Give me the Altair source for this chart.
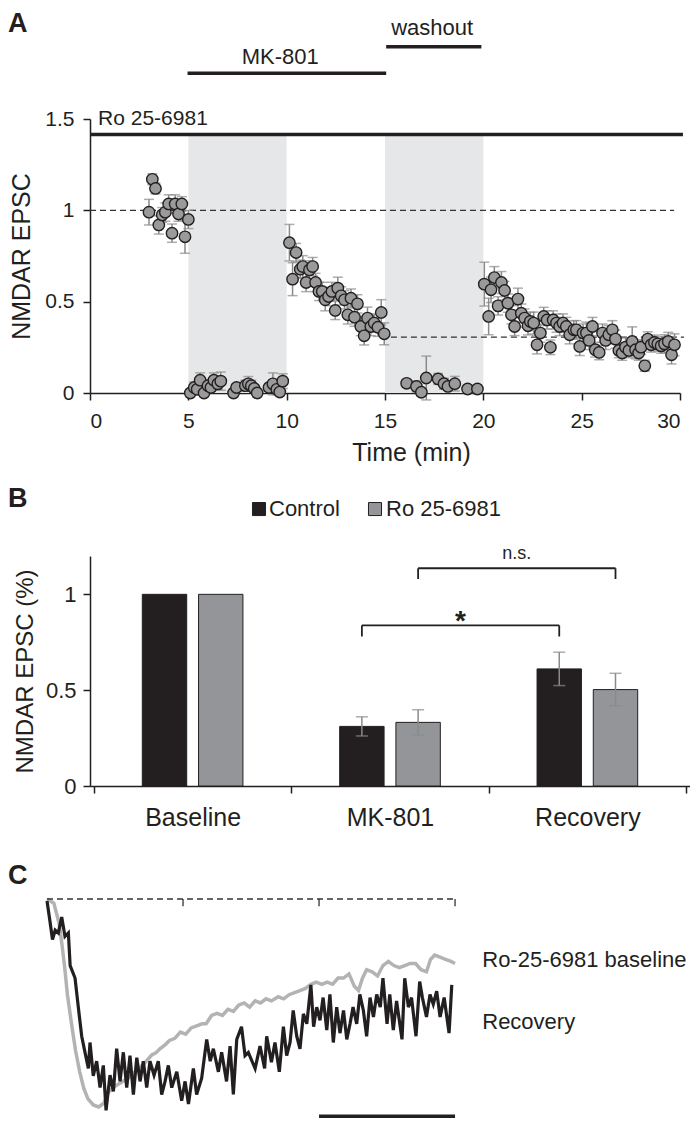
import altair as alt
import pandas as pd

FONT = "Liberation Sans"
INK = "#231f20"
GREY_PT = "#9a9a9a"
ERR = "#8a8a8a"

# ---------------- Panel A data ----------------
base_t = [3.0, 3.17, 3.33, 3.5, 3.67, 3.83, 4.0, 4.17, 4.33, 4.5, 4.67, 4.83, 5.0]
base_v = [0.99, 1.17, 1.12, 0.92, 0.975, 0.99, 1.035, 0.875, 1.035, 0.98, 1.035, 0.855, 0.95]
base_e = [0.07, 0.03, 0.03, 0.05, 0.04, 0.05, 0.05, 0.05, 0.05, 0.04, 0.04, 0.09, 0.05]

mk_t = [5.1, 5.3, 5.45, 5.6, 5.8, 6.0, 6.15, 6.3, 6.5, 6.65, 7.3, 7.45, 7.9, 8.05, 8.2, 8.35, 8.5,
        9.1, 9.3, 9.5, 9.65, 9.8]
mk_v = [0.0, 0.03, 0.02, 0.07, 0.0, 0.04, 0.03, 0.07, 0.05, 0.065, 0.0, 0.03, 0.04, 0.05, 0.04, 0.025, 0.0,
        0.03, 0.05, 0.02, 0.005, 0.065]
mk_e = [0.02, 0.03, 0.02, 0.04, 0.02, 0.03, 0.02, 0.04, 0.03, 0.05, 0.02, 0.02, 0.03, 0.04, 0.03, 0.02, 0.02,
        0.02, 0.06, 0.03, 0.02, 0.04]

rec1_t = [10.14, 10.3, 10.48, 10.69, 10.82, 10.99, 11.16, 11.32, 11.47, 11.64, 11.81, 11.96, 12.13, 12.3,
          12.47, 12.6, 12.77, 12.94, 13.11, 13.27, 13.45, 13.6, 13.77, 13.94, 14.11, 14.28, 14.45, 14.64,
          14.81, 14.96]
rec1_v = [0.823, 0.623, 0.769, 0.678, 0.692, 0.605, 0.674, 0.692, 0.605, 0.556, 0.556, 0.51, 0.528, 0.556,
          0.452, 0.574, 0.532, 0.51, 0.428, 0.519, 0.415, 0.488, 0.364, 0.313, 0.41, 0.364, 0.383, 0.36,
          0.441, 0.324]
rec1_e = [0.1, 0.09, 0.05, 0.05, 0.06, 0.05, 0.05, 0.05, 0.05, 0.05, 0.05, 0.06, 0.05, 0.05,
          0.05, 0.06, 0.05, 0.05, 0.05, 0.05, 0.05, 0.05, 0.05, 0.05, 0.06, 0.05, 0.05, 0.05,
          0.07, 0.06]

wash_t = [16.1, 16.6, 16.85, 17.1, 17.7, 18.0, 18.2, 18.55, 19.2, 19.7]
wash_v = [0.053, 0.036, 0.004, 0.082, 0.077, 0.051, 0.036, 0.051, 0.022, 0.022]
wash_e = [0.02, 0.03, 0.02, 0.12, 0.03, 0.03, 0.02, 0.04, 0.02, 0.02]

rec2_t = [20.05, 20.27, 20.39, 20.56, 20.75, 20.92, 21.08, 21.25, 21.43, 21.59, 21.76, 21.93, 22.1, 22.27,
          22.39, 22.56, 22.73, 22.9, 23.07, 23.24, 23.41, 23.55, 23.72, 23.88, 24.05, 24.22, 24.39, 24.6,
          24.73, 24.9, 25.07, 25.24, 25.38, 25.55, 25.69, 25.89, 26.06, 26.22, 26.38, 26.56, 26.72, 26.89,
          27.06, 27.23, 27.4, 27.57, 27.74, 27.9, 28.02, 28.21, 28.36, 28.53, 28.7, 28.87, 29.04, 29.21,
          29.4, 29.57, 29.72]
rec2_v = [0.596, 0.419, 0.565, 0.632, 0.477, 0.605, 0.561, 0.492, 0.428, 0.364, 0.514, 0.437, 0.41, 0.368,
          0.392, 0.383, 0.264, 0.328, 0.419, 0.4, 0.25, 0.4, 0.383, 0.364, 0.383, 0.364, 0.319, 0.346,
          0.346, 0.255, 0.328, 0.328, 0.288, 0.364, 0.237, 0.222, 0.328, 0.288, 0.319, 0.346, 0.295, 0.233,
          0.219, 0.251, 0.233, 0.282, 0.237, 0.219, 0.251, 0.149, 0.295, 0.264, 0.277, 0.269, 0.258, 0.269,
          0.282, 0.209, 0.264]
rec2_e = [0.12, 0.1, 0.07, 0.06, 0.05, 0.06, 0.05, 0.05, 0.05, 0.05, 0.06, 0.05, 0.05, 0.05,
          0.05, 0.06, 0.05, 0.05, 0.05, 0.05, 0.04, 0.05, 0.05, 0.05, 0.05, 0.05, 0.05, 0.05,
          0.05, 0.05, 0.05, 0.06, 0.05, 0.05, 0.04, 0.04, 0.05, 0.05, 0.05, 0.05, 0.05, 0.04,
          0.04, 0.05, 0.04, 0.08, 0.05, 0.04, 0.04, 0.03, 0.04, 0.04, 0.04, 0.04, 0.04, 0.05,
          0.05, 0.05, 0.06]

shade_start = [5, 15]
shade_end = [10, 20]
dash_x1 = [0, 15.3]
dash_x2 = [29.7, 30.2]
dash_y = [1.0, 0.306]
bar_x1 = [0, 4.96, 15.06]
bar_x2 = [30.15, 15.06, 19.9]
bar_y = [1.415, 1.75, 1.896]
lab_left = ["Ro 25-6981"]
lab_left_x = [0.41]
lab_left_y = [1.5]
lab_c = ["MK-801", "washout"]
lab_c_x = [9.67, 17.4]
lab_c_y = [1.84, 2.0]

# ---------------- Panel B data ----------------
cats = ["Baseline", "MK-801", "Recovery"]
groups = ["Control", "Ro 25-6981"]
b_cat = ["Baseline", "Baseline", "MK-801", "MK-801", "Recovery", "Recovery"]
b_grp = ["Control", "Ro 25-6981"] * 3
b_val = [1.0, 1.0, 0.311, 0.332, 0.611, 0.503]
b_err = [0.0, 0.0, 0.05, 0.066, 0.087, 0.085]
bar_colors = [INK, "#939598"]

# ---------------- Panel C data ----------------
gray_x = [0.0, 0.05, 0.09, 0.11, 0.13, 0.15, 0.18, 0.21, 0.24, 0.27, 0.30, 0.34, 0.38, 0.42, 0.45, 0.50,
          0.55, 0.60, 0.65, 0.70, 0.73, 0.77, 0.80, 0.83, 0.87, 0.90, 0.94, 0.98, 1.02, 1.06, 1.10, 1.14,
          1.17, 1.21, 1.25, 1.29, 1.33, 1.37, 1.41, 1.45, 1.49, 1.53, 1.57, 1.61, 1.65, 1.70, 1.74, 1.78,
          1.82, 1.86, 1.90, 1.94, 1.98, 2.02, 2.06, 2.10, 2.14, 2.18, 2.22, 2.26, 2.29, 2.32, 2.35, 2.39,
          2.43, 2.47, 2.51, 2.55, 2.59, 2.63, 2.67, 2.71, 2.75, 2.79, 2.82, 2.85, 2.89, 2.93, 2.97, 3.0]
gray_y = [0.0, -0.02, -0.12, -0.22, -0.33, -0.46, -0.6, -0.73, -0.83, -0.91, -0.96, -0.99, -1.0, -0.98,
          -0.93, -0.9, -0.88, -0.86, -0.83, -0.8, -0.78, -0.75, -0.74, -0.72, -0.7, -0.68, -0.67, -0.64,
          -0.65, -0.62, -0.61, -0.6, -0.6, -0.56, -0.55, -0.56, -0.53, -0.54, -0.51, -0.5, -0.52, -0.49,
          -0.5, -0.48, -0.49, -0.47, -0.48, -0.46, -0.45, -0.44, -0.43, -0.41, -0.4, -0.41, -0.4, -0.41,
          -0.38, -0.38, -0.36, -0.42, -0.44, -0.38, -0.34, -0.35, -0.37, -0.32, -0.3, -0.32, -0.33, -0.32,
          -0.31, -0.31, -0.34, -0.35, -0.29, -0.27, -0.28, -0.29, -0.3, -0.31]

black_x = [0.0, 0.02, 0.04, 0.06, 0.083, 0.108, 0.132, 0.157, 0.17, 0.206, 0.23, 0.255, 0.28, 0.304,
           0.316, 0.34, 0.365, 0.39, 0.414, 0.434, 0.463, 0.488, 0.512, 0.537, 0.561, 0.586, 0.61, 0.635,
           0.66, 0.684, 0.708, 0.733, 0.757, 0.787, 0.818, 0.843, 0.868, 0.892, 0.917, 0.954, 0.99, 1.015,
           1.04, 1.076, 1.10, 1.137, 1.174, 1.2, 1.223, 1.26, 1.284, 1.32, 1.346, 1.37, 1.395, 1.43, 1.456,
           1.48, 1.53, 1.566, 1.60, 1.615, 1.65, 1.676, 1.708, 1.738, 1.762, 1.787, 1.81, 1.836, 1.86,
           1.885, 1.91, 1.94, 1.96, 1.983, 2.007, 2.03, 2.057, 2.08, 2.105, 2.13, 2.154, 2.18, 2.204,
           2.228, 2.25, 2.277, 2.30, 2.326, 2.35, 2.375, 2.40, 2.424, 2.45, 2.47, 2.50, 2.52, 2.546, 2.57,
           2.61, 2.63, 2.657, 2.68, 2.713, 2.74, 2.76, 2.79, 2.816, 2.84, 2.865, 2.89, 2.92, 2.956, 2.976]
black_y = [-0.01, -0.10, -0.195, -0.15, -0.163, -0.087, -0.18, -0.163, -0.32, -0.38, -0.52, -0.66, -0.74,
           -0.815, -0.69, -0.85, -0.78, -0.907, -0.8, -1.016, -0.847, -0.925, -0.72, -0.877, -0.737,
           -0.907, -0.753, -0.94, -0.763, -0.877, -0.78, -0.907, -0.78, -0.847, -0.78, -0.94, -0.877, -0.8,
           -0.907, -0.831, -0.97, -0.877, -0.986, -0.815, -0.94, -0.862, -0.675, -0.78, -0.72, -0.831,
           -0.737, -0.877, -0.707, -0.94, -0.675, -0.614, -0.753, -0.738, -0.815, -0.707, -0.815, -0.66,
           -0.785, -0.69, -0.831, -0.614, -0.753, -0.69, -0.536, -0.66, -0.72, -0.552, -0.6, -0.413,
           -0.614, -0.52, -0.583, -0.474, -0.63, -0.459, -0.69, -0.52, -0.645, -0.536, -0.675, -0.6, -0.52,
           -0.6, -0.459, -0.536, -0.66, -0.474, -0.567, -0.459, -0.52, -0.381, -0.6, -0.459, -0.63, -0.49,
           -0.675, -0.381, -0.52, -0.474, -0.66, -0.397, -0.474, -0.567, -0.459, -0.506, -0.443, -0.567,
           -0.474, -0.645, -0.413]

c_base_x1 = [0.0]
c_base_x2 = [3.0]
c_tick_x = [1.0, 2.0, 3.0]
c_scale_x1 = [2.0]
c_scale_x2 = [3.0]
c_scale_y = [-1.045]
c_labels = ["Ro-25-6981 baseline", "Recovery"]
c_lab_x = [3.2, 3.2]
c_lab_y = [-0.293, -0.591]

# ================= Panel A =================
xa = alt.Scale(domain=[0, 30], nice=False, zero=False)
ya = alt.Scale(domain=[0, 1.5], nice=False)

dfA = pd.DataFrame({
    "t": base_t + mk_t + rec1_t + wash_t + rec2_t,
    "v": base_v + mk_v + rec1_v + wash_v + rec2_v,
    "e": base_e + mk_e + rec1_e + wash_e + rec2_e,
})
dfA["lo"] = dfA["v"] - dfA["e"]
dfA["hi"] = dfA["v"] + dfA["e"]

shade = alt.Chart(pd.DataFrame({"s": shade_start, "e": shade_end, "b": [0, 0], "top": [bar_y[0]] * 2})).mark_rect(
    color="#e6e7e8").encode(
    x=alt.X("s:Q", scale=xa), x2="e:Q",
    y=alt.Y("b:Q", scale=ya), y2="top:Q")

dashes = alt.Chart(pd.DataFrame({"x1": dash_x1, "x2": dash_x2, "y": dash_y})).mark_rule(
    color="#333333", strokeDash=[6, 4], strokeWidth=1.3).encode(
    x=alt.X("x1:Q", scale=xa), x2="x2:Q", y=alt.Y("y:Q", scale=ya))

err_rule = alt.Chart(dfA).mark_rule(color=ERR, strokeWidth=1.5).encode(
    x=alt.X("t:Q", scale=xa), y=alt.Y("lo:Q", scale=ya), y2="hi:Q")
err_hi = alt.Chart(dfA).mark_tick(color=ERR, size=10, thickness=1.5, orient="horizontal").encode(
    x=alt.X("t:Q", scale=xa), y=alt.Y("hi:Q", scale=ya))
err_lo = alt.Chart(dfA).mark_tick(color=ERR, size=10, thickness=1.5, orient="horizontal").encode(
    x=alt.X("t:Q", scale=xa), y=alt.Y("lo:Q", scale=ya))

pts = alt.Chart(dfA).mark_circle(size=130, fill=GREY_PT, stroke=INK, strokeWidth=1.4, opacity=1).encode(
    x=alt.X("t:Q", scale=xa, axis=alt.Axis(values=[0, 5, 10, 15, 20, 25, 30], title="Time (min)",
                                           labelFontSize=21, titleFontSize=25, titlePadding=9,
                                           labelPadding=10, titleX=321)),
    y=alt.Y("v:Q", scale=ya, axis=alt.Axis(values=[0, 0.5, 1, 1.5], format="~g", title="NMDAR EPSC",
                                           labelFontSize=21, titleFontSize=25, titlePadding=10,
                                           labelPadding=9)))

bars_a = alt.Chart(pd.DataFrame({"x1": bar_x1, "x2": bar_x2, "y": bar_y})).mark_rule(
    color=INK, strokeWidth=3.5).encode(
    x=alt.X("x1:Q", scale=xa), x2="x2:Q", y=alt.Y("y:Q", scale=ya))

txt_left = alt.Chart(pd.DataFrame({"x": lab_left_x, "y": lab_left_y, "l": lab_left})).mark_text(
    align="left", baseline="middle", fontSize=21, color=INK).encode(
    x=alt.X("x:Q", scale=xa), y=alt.Y("y:Q", scale=ya), text="l:N")
txt_c = alt.Chart(pd.DataFrame({"x": lab_c_x, "y": lab_c_y, "l": lab_c})).mark_text(
    align="center", baseline="middle", fontSize=22, color=INK).encode(
    x=alt.X("x:Q", scale=xa), y=alt.Y("y:Q", scale=ya), text="l:N")

letter_a = alt.Chart(pd.DataFrame({"l": ["A"]})).mark_text(
    align="left", baseline="top", fontSize=27, fontWeight="bold", color=INK).encode(
    x=alt.value(-82), y=alt.value(-108), text="l:N")

panelA = alt.layer(shade, dashes, err_rule, err_hi, err_lo, pts, bars_a, txt_left, txt_c, letter_a).properties(
    width=590, height=274)

# ================= Panel B =================
dfB = pd.DataFrame({"cat": b_cat, "grp": b_grp, "val": b_val, "err": b_err})
dfB["lo"] = dfB["val"] - dfB["err"]
dfB["hi"] = dfB["val"] + dfB["err"]
dfBe = dfB[dfB["err"] > 0]

xb = alt.Scale(domain=cats, paddingInner=0, paddingOuter=0.02)
xo = alt.Scale(domain=groups, paddingInner=0.2105, paddingOuter=0.86)
yb = alt.Scale(domain=[0, 1.2], nice=False)
cb = alt.Scale(domain=groups, range=bar_colors)
CTRL_POS = 0.3575
RO_POS = 0.6425

barsB = alt.Chart(dfB).mark_bar(stroke=INK, strokeWidth=1).encode(
    x=alt.X("cat:N", scale=xb, axis=alt.Axis(title=None, labelAngle=0, tickBand="extent", labelFontSize=25,
                                             labelPadding=12)),
    xOffset=alt.XOffset("grp:N", scale=xo),
    y=alt.Y("val:Q", scale=yb, axis=alt.Axis(values=[0, 0.5, 1], format="~g", title="NMDAR EPSC (%)",
                                             labelFontSize=22, titleFontSize=24, titlePadding=8,
                                             labelPadding=7)),
    color=alt.Color("grp:N", scale=cb, legend=None))

errB = alt.Chart(dfBe).mark_rule(color=ERR, strokeWidth=1.5).encode(
    x=alt.X("cat:N", scale=xb), xOffset=alt.XOffset("grp:N", scale=xo),
    y=alt.Y("lo:Q", scale=yb), y2="hi:Q")
errB_hi = alt.Chart(dfBe).mark_tick(color=ERR, size=12, thickness=1.5, orient="horizontal").encode(
    x=alt.X("cat:N", scale=xb), xOffset=alt.XOffset("grp:N", scale=xo), y=alt.Y("hi:Q", scale=yb))
errB_lo = alt.Chart(dfBe).mark_tick(color=ERR, size=12, thickness=1.5, orient="horizontal").encode(
    x=alt.X("cat:N", scale=xb), xOffset=alt.XOffset("grp:N", scale=xo), y=alt.Y("lo:Q", scale=yb))


def bracket(c1, c2, pos, y_top, y_leg):
    h = alt.Chart(pd.DataFrame({"c1": [c1], "c2": [c2], "y": [y_top]})).mark_rule(
        color=INK, strokeWidth=1.8).encode(
        x=alt.X("c1:N", scale=xb, bandPosition=pos), x2=alt.X2("c2:N", bandPosition=pos),
        y=alt.Y("y:Q", scale=yb))
    legs = alt.Chart(pd.DataFrame({"c": [c1, c2], "y1": [y_leg, y_leg], "y2": [y_top, y_top]})).mark_rule(
        color=INK, strokeWidth=1.8).encode(
        x=alt.X("c:N", scale=xb, bandPosition=pos), y=alt.Y("y1:Q", scale=yb), y2="y2:Q")
    return [h, legs]


star = alt.Chart(pd.DataFrame({"c": ["MK-801"], "y": [0.815], "l": ["*"]})).mark_text(
    fontSize=28, fontWeight="bold", baseline="alphabetic", color=INK).encode(
    x=alt.X("c:N", scale=xb, bandPosition=CTRL_POS + 0.5), y=alt.Y("y:Q", scale=yb), text="l:N")
ns = alt.Chart(pd.DataFrame({"c": ["Recovery"], "y": [1.183], "l": ["n.s."]})).mark_text(
    fontSize=18, baseline="alphabetic", color=INK).encode(
    x=alt.X("c:N", scale=xb, bandPosition=RO_POS - 0.5), y=alt.Y("y:Q", scale=yb), text="l:N")

# legend drawn as marks (one square + label per group)
leg_y = 1.445
leg_layers = []
for g, sq_x, lab_x in zip(groups, [169, 285], [179, 296]):
    d = pd.DataFrame({"grp": [g], "y": [leg_y]})
    leg_layers.append(alt.Chart(d).mark_square(size=170, stroke=INK, strokeWidth=1, opacity=1).encode(
        x=alt.value(sq_x), y=alt.Y("y:Q", scale=yb), color=alt.Color("grp:N", scale=cb, legend=None)))
    leg_layers.append(alt.Chart(d).mark_text(align="left", baseline="middle", fontSize=22, color=INK).encode(
        x=alt.value(lab_x), y=alt.Y("y:Q", scale=yb), text="grp:N"))

letter_b = alt.Chart(pd.DataFrame({"l": ["B"]})).mark_text(
    align="left", baseline="top", fontSize=27, fontWeight="bold", color=INK).encode(
    x=alt.value(-82), y=alt.value(-70), text="l:N")

panelB = alt.layer(barsB, errB, errB_hi, errB_lo,
                   *bracket("MK-801", "Recovery", CTRL_POS, 0.838, 0.78),
                   *bracket("MK-801", "Recovery", RO_POS, 1.136, 1.08),
                   star, ns, *leg_layers, letter_b).properties(width=600, height=230)

# ================= Panel C =================
xc = alt.Scale(domain=[0.316, 4.654], nice=False, zero=False)
yc = alt.Scale(domain=[-1.053, -0.2404], nice=False, zero=False)

gray_tr = alt.Chart(pd.DataFrame({"x": gray_x, "y": gray_y})).mark_line(
    color="#b3b3b3", strokeWidth=3.5).encode(
    x=alt.X("x:Q", scale=xc, axis=None), y=alt.Y("y:Q", scale=yc, axis=None))
black_tr = alt.Chart(pd.DataFrame({"x": black_x, "y": black_y})).mark_line(
    color=INK, strokeWidth=3.2).encode(
    x=alt.X("x:Q", scale=xc, axis=None), y=alt.Y("y:Q", scale=yc, axis=None))
base_c = alt.Chart(pd.DataFrame({"x1": c_base_x1, "x2": c_base_x2, "y": [0.0]})).mark_rule(
    color="#333333", strokeDash=[6, 4], strokeWidth=1.3).encode(
    x=alt.X("x1:Q", scale=xc, axis=None), x2="x2:Q", y=alt.Y("y:Q", scale=yc, axis=None))
ticks_c = alt.Chart(pd.DataFrame({"x": c_tick_x, "y1": [0.0] * 3, "y2": [-0.035] * 3})).mark_rule(
    color="#333333", strokeWidth=1.3).encode(
    x=alt.X("x:Q", scale=xc, axis=None), y=alt.Y("y1:Q", scale=yc, axis=None), y2="y2:Q")
scale_c = alt.Chart(pd.DataFrame({"x1": c_scale_x1, "x2": c_scale_x2, "y": c_scale_y})).mark_rule(
    color=INK, strokeWidth=3.5).encode(
    x=alt.X("x1:Q", scale=xc, axis=None), x2="x2:Q", y=alt.Y("y:Q", scale=yc, axis=None))
lab_cc = alt.Chart(pd.DataFrame({"x": c_lab_x, "y": c_lab_y, "l": c_labels})).mark_text(
    align="left", baseline="middle", fontSize=22, color=INK).encode(
    x=alt.X("x:Q", scale=xc, axis=None), y=alt.Y("y:Q", scale=yc, axis=None), text="l:N")
letter_c = alt.Chart(pd.DataFrame({"l": ["C"]})).mark_text(
    align="left", baseline="top", fontSize=27, fontWeight="bold", color=INK).encode(
    x=alt.value(-82), y=alt.value(-86), text="l:N")

panelC = alt.layer(gray_tr, black_tr, base_c, ticks_c, scale_c, lab_cc, letter_c).properties(
    width=590, height=169)

chart = alt.vconcat(panelA, panelB, panelC, spacing=163, bounds="flush").properties(
    padding={"top": 2, "left": 0, "right": 0, "bottom": 0}
).configure(font=FONT).configure_view(stroke=None).configure_axis(
    domainColor=INK, domainWidth=1.5, tickColor=INK, tickWidth=1.5, tickSize=7,
    labelColor=INK, titleColor=INK, titleFontWeight="normal", grid=False, labelFont=FONT, titleFont=FONT
).configure_text(font=FONT)

chart.save("out.html", embed_options={"renderer": "svg", "actions": False})
